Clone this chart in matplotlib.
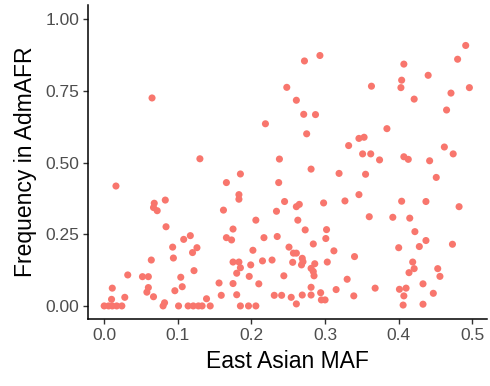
import matplotlib
matplotlib.use("Agg")
import matplotlib.pyplot as plt

plt.rcParams["font.family"] = ["Liberation Sans", "DejaVu Sans"]

# East Asian MAF (x) vs frequency in AdmAFR (y)
maf = [
    0.065, 0.248, 0.219, 0.130, 0.238, 0.491, 0.480, 0.496, 0.471, 0.465,
    0.407, 0.440, 0.404, 0.403, 0.421, 0.363, 0.384, 0.293, 0.272, 0.261,
    0.271, 0.287, 0.275, 0.346, 0.353, 0.332, 0.351, 0.362, 0.374, 0.407,
    0.413, 0.442, 0.462, 0.474,
    0.185, 0.166, 0.237, 0.016, 0.183, 0.183, 0.245, 0.083, 0.068, 0.067,
    0.072, 0.162, 0.234, 0.206, 0.084, 0.175, 0.166, 0.173, 0.217, 0.235,
    0.117, 0.108, 0.093, 0.126, 0.120, 0.094, 0.202, 0.251, 0.064, 0.175,
    0.183, 0.185, 0.180, 0.199, 0.215, 0.228, 0.122, 0.032, 0.052, 0.060,
    0.104, 0.197, 0.244, 0.175, 0.156, 0.210, 0.011, 0.060, 0.058, 0.106,
    0.096, 0.067, 0.028, 0.010, 0.159, 0.180, 0.139, 0.231, 0.241, 0.082,
    0.000, 0.006, 0.011, 0.017, 0.024, 0.080, 0.101, 0.114, 0.121, 0.128,
    0.133, 0.144, 0.185, 0.196, 0.206,
    0.281, 0.319, 0.355, 0.451, 0.346, 0.261, 0.265, 0.298, 0.327, 0.404,
    0.437, 0.482, 0.360, 0.392, 0.415, 0.263, 0.273, 0.302, 0.422, 0.301,
    0.284, 0.437, 0.428, 0.400, 0.473, 0.312, 0.257, 0.261, 0.269, 0.270,
    0.268, 0.256, 0.286, 0.281, 0.284, 0.285, 0.303, 0.340, 0.419, 0.421,
    0.414, 0.453, 0.456, 0.330, 0.433, 0.281, 0.281, 0.315, 0.368, 0.401,
    0.410, 0.407, 0.447, 0.254, 0.269, 0.294, 0.295, 0.300, 0.339, 0.261,
    0.406, 0.433,
]
freq_admafr = [
    0.725, 0.762, 0.635, 0.513, 0.512, 0.908, 0.860, 0.761, 0.742, 0.683,
    0.843, 0.804, 0.787, 0.761, 0.721, 0.766, 0.618, 0.873, 0.854, 0.717,
    0.668, 0.667, 0.600, 0.584, 0.588, 0.559, 0.530, 0.530, 0.509, 0.520,
    0.511, 0.506, 0.554, 0.530,
    0.460, 0.430, 0.430, 0.418, 0.388, 0.372, 0.364, 0.369, 0.358, 0.343,
    0.332, 0.334, 0.330, 0.299, 0.276, 0.268, 0.238, 0.230, 0.238, 0.242,
    0.245, 0.232, 0.205, 0.203, 0.186, 0.167, 0.194, 0.205, 0.160, 0.153,
    0.153, 0.133, 0.114, 0.143, 0.157, 0.160, 0.123, 0.108, 0.102, 0.102,
    0.100, 0.103, 0.105, 0.078, 0.080, 0.077, 0.062, 0.064, 0.048, 0.067,
    0.053, 0.032, 0.030, 0.023, 0.037, 0.039, 0.025, 0.037, 0.037, 0.011,
    0.000, 0.000, 0.000, 0.000, 0.000, 0.000, 0.000, 0.000, 0.000, 0.000,
    0.000, 0.000, 0.000, 0.000, 0.000,
    0.477, 0.462, 0.459, 0.448, 0.388, 0.346, 0.354, 0.359, 0.366, 0.365,
    0.364, 0.346, 0.311, 0.309, 0.306, 0.299, 0.265, 0.266, 0.259, 0.235,
    0.216, 0.228, 0.207, 0.203, 0.215, 0.192, 0.184, 0.184, 0.166, 0.154,
    0.143, 0.152, 0.147, 0.131, 0.120, 0.105, 0.153, 0.172, 0.153, 0.130,
    0.116, 0.130, 0.103, 0.093, 0.077, 0.065, 0.038, 0.057, 0.062, 0.058,
    0.062, 0.035, 0.044, 0.030, 0.038, 0.046, 0.021, 0.021, 0.035, 0.007,
    0.003, 0.006,
]

x_ticks = [0.0, 0.1, 0.2, 0.3, 0.4, 0.5]
x_labels = ["0.0", "0.1", "0.2", "0.3", "0.4", "0.5"]
y_ticks = [0.0, 0.25, 0.5, 0.75, 1.0]
y_labels = ["0.00", "0.25", "0.50", "0.75", "1.00"]

fig = plt.figure(figsize=(4.9, 3.86), dpi=100)
ax = fig.add_axes([0.180, 0.174, 0.814, 0.813])

ax.scatter(maf, freq_admafr, s=26, color="#F8766D", edgecolors="none", zorder=3)

ax.set_xlim(-0.0217, 0.520)
ax.set_ylim(-0.045, 1.049)
ax.set_xticks(x_ticks)
ax.set_xticklabels(x_labels)
ax.set_yticks(y_ticks)
ax.set_yticklabels(y_labels)

for side in ["top", "right"]:
    ax.spines[side].set_visible(False)
for side in ["left", "bottom"]:
    ax.spines[side].set_color("black")
    ax.spines[side].set_linewidth(1.1)

ax.tick_params(axis="both", direction="out", length=3.5, width=1.0,
               color="#333333", labelcolor="#4D4D4D", labelsize=12.5, pad=3)

ax.set_xlabel("East Asian MAF", fontsize=16.5, color="black", labelpad=5)
ax.set_ylabel("Frequency in AdmAFR", fontsize=16.5, color="black", labelpad=6)

fig.savefig("out.png", dpi=100)
